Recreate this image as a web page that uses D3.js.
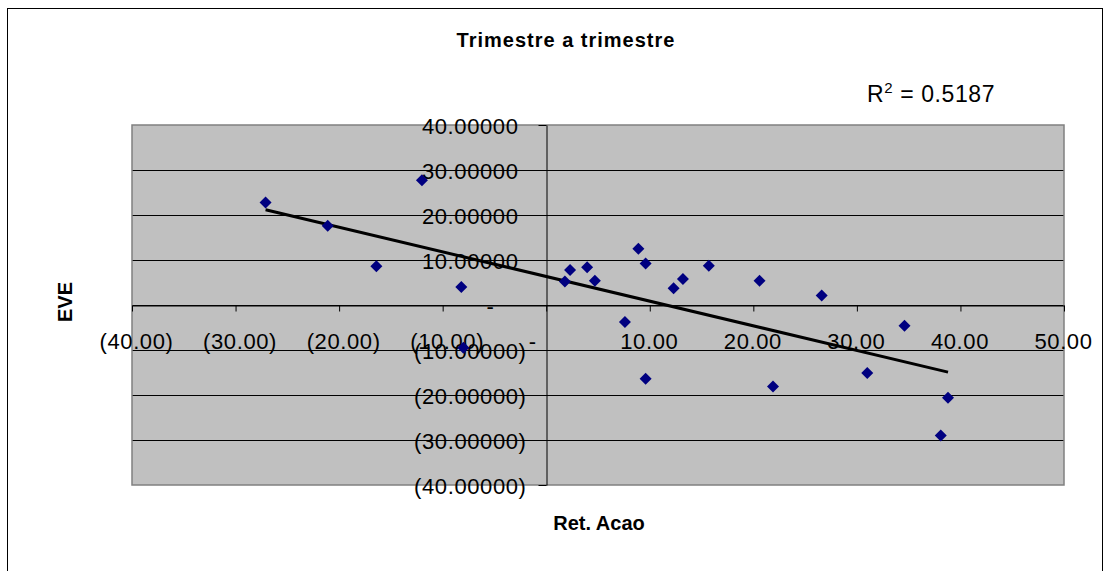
<!DOCTYPE html>
<html>
<head>
<meta charset="utf-8">
<script src="https://cdn.jsdelivr.net/npm/d3@7"></script>
<style>
  html, body { margin: 0; padding: 0; background: #fff; }
  svg { display: block; font-family: "Liberation Sans", Arial, sans-serif; }
</style>
</head>
<body>
<svg id="chart" width="1110" height="571"></svg>
<script>
// ---- data ----
const retAcao = [-27.1, -21.1, -16.4, -12.0, -8.2, -8.0, 1.8, 2.3, 3.95, 4.7, 8.9, 9.6,
                 12.3, 13.2, 15.7, 20.6, 26.6, 7.6, 34.6, 9.6, 21.9, 31.0, 38.8, 38.1];
const eve     = [22.8, 17.6, 8.6, 27.7, 4.0, -9.5, 5.2, 7.8, 8.4, 5.4, 12.5, 9.2,
                 3.7, 5.8, 8.7, 5.4, 2.1, -3.8, -4.6, -16.4, -18.1, -15.1, -20.6, -29.0];
const xTicks = [-40, -30, -20, -10, 0, 10, 20, 30, 40, 50];
const xTickLabels = ["(40.00)", "(30.00)", "(20.00)", "(10.00)", "-", "10.00", "20.00", "30.00", "40.00", "50.00"];
const yTicks = [-40, -30, -20, -10, 0, 10, 20, 30, 40];
const yTickLabels = ["(40.00000)", "(30.00000)", "(20.00000)", "(10.00000)", "-", "10.00000", "20.00000", "30.00000", "40.00000"];
const chartTitle = "Trimestre a trimestre";
const xTitle = "Ret. Acao";
const yTitle = "EVE";
const r2Text = "0.5187";

// ---- layout ----
const svg = d3.select("#chart");
const x = d3.scaleLinear().domain([-40, 50]).range([132, 1064]);
const y = d3.scaleLinear().domain([-40, 40]).range([485, 125]);

// outer border
svg.append("rect").attr("x", 7.5).attr("y", 8.5).attr("width", 1095).attr("height", 620)
  .attr("fill", "#fff").attr("stroke", "#000").attr("stroke-width", 1);

// plot area
svg.append("rect").attr("x", x(-40)).attr("y", y(40))
  .attr("width", x(50) - x(-40)).attr("height", y(-40) - y(40))
  .attr("fill", "#c0c0c0");

// gridlines
svg.append("g").selectAll("line").data(yTicks.filter(d => d > -40 && d < 40)).join("line")
  .attr("x1", x(-40)).attr("x2", x(50))
  .attr("y1", d => Math.round(y(d)) + 0.5).attr("y2", d => Math.round(y(d)) + 0.5)
  .attr("stroke", "#000").attr("stroke-width", 1);

// plot border
svg.append("rect").attr("x", x(-40)).attr("y", y(40))
  .attr("width", x(50) - x(-40)).attr("height", y(-40) - y(40))
  .attr("fill", "none").attr("stroke", "#808080").attr("stroke-width", 1.5);

// x axis
const xAxis = svg.append("g")
  .attr("transform", `translate(0,${Math.round(y(0)) + 0.5})`)
  .call(d3.axisBottom(x).tickValues(xTicks).tickSize(6).tickSizeOuter(0)
    .tickFormat((d, i) => xTickLabels[i]));
xAxis.select(".domain").attr("stroke", "#000");
xAxis.selectAll(".tick line").attr("stroke", "#000");
xAxis.selectAll(".tick text")
  .attr("y", 43).attr("dy", 0)
  .attr("dx", d => d < 0 ? 4 : (d === 0 ? -14 : -1))
  .attr("fill", "#000")
  .style("font-size", "22px").style("letter-spacing", "0.6px")
  .style("font-family", "'Liberation Sans', Arial, sans-serif");

// y axis
const yAxis = svg.append("g")
  .attr("transform", `translate(${Math.round(x(0)) + 0.5},0)`)
  .call(d3.axisLeft(y).tickValues(yTicks).tickSize(8).tickSizeOuter(0)
    .tickFormat((d, i) => yTickLabels[i]));
yAxis.select(".domain").attr("stroke", "#000");
yAxis.selectAll(".tick line").attr("stroke", "#000");
yAxis.selectAll(".tick text")
  .attr("x", d => d < 0 ? -20 : (d === 0 ? -52 : -28)).attr("dy", 8)
  .attr("fill", "#000")
  .style("font-size", "22px").style("letter-spacing", "0.6px")
  .style("font-family", "'Liberation Sans', Arial, sans-serif");

// trend line (least squares over the data)
const mx = d3.mean(retAcao), my = d3.mean(eve);
let sxy = 0, sxx = 0;
retAcao.forEach((v, i) => { sxy += (v - mx) * (eve[i] - my); sxx += (v - mx) * (v - mx); });
const slope = sxy / sxx, icpt = my - slope * mx;
const [xmin, xmax] = d3.extent(retAcao);
svg.append("path")
  .datum([xmin, xmax])
  .attr("d", d3.line().x(d => x(d)).y(d => y(slope * d + icpt)))
  .attr("stroke", "#000").attr("stroke-width", 3).attr("fill", "none");

// points
const pts = retAcao.map((v, i) => ({ x: v, y: eve[i] }));
svg.append("g").selectAll("path").data(pts).join("path")
  .attr("d", d3.symbol().type(d3.symbolSquare).size(72))
  .attr("transform", d => `translate(${x(d.x)},${y(d.y)}) rotate(45)`)
  .attr("fill", "#000080");

// titles
svg.append("text").attr("x", 566).attr("y", 47).attr("text-anchor", "middle")
  .style("font-size", "20px").style("font-weight", "bold").style("letter-spacing", "1px")
  .text(chartTitle);
svg.append("text").attr("x", 599).attr("y", 530).attr("text-anchor", "middle")
  .style("font-size", "20px").style("font-weight", "bold")
  .text(xTitle);
svg.append("text").attr("transform", "translate(72,302) rotate(-90)").attr("text-anchor", "middle")
  .style("font-size", "20px").style("font-weight", "bold")
  .text(yTitle);

// R^2 label
const r2 = svg.append("text").attr("x", 867).attr("y", 102)
  .style("font-size", "23px").style("letter-spacing", "0.6px");
r2.append("tspan").text("R");
r2.append("tspan").attr("dy", -9).style("font-size", "15px").text("2");
r2.append("tspan").attr("dy", 9).text(" = " + r2Text);
</script>
</body>
</html>
